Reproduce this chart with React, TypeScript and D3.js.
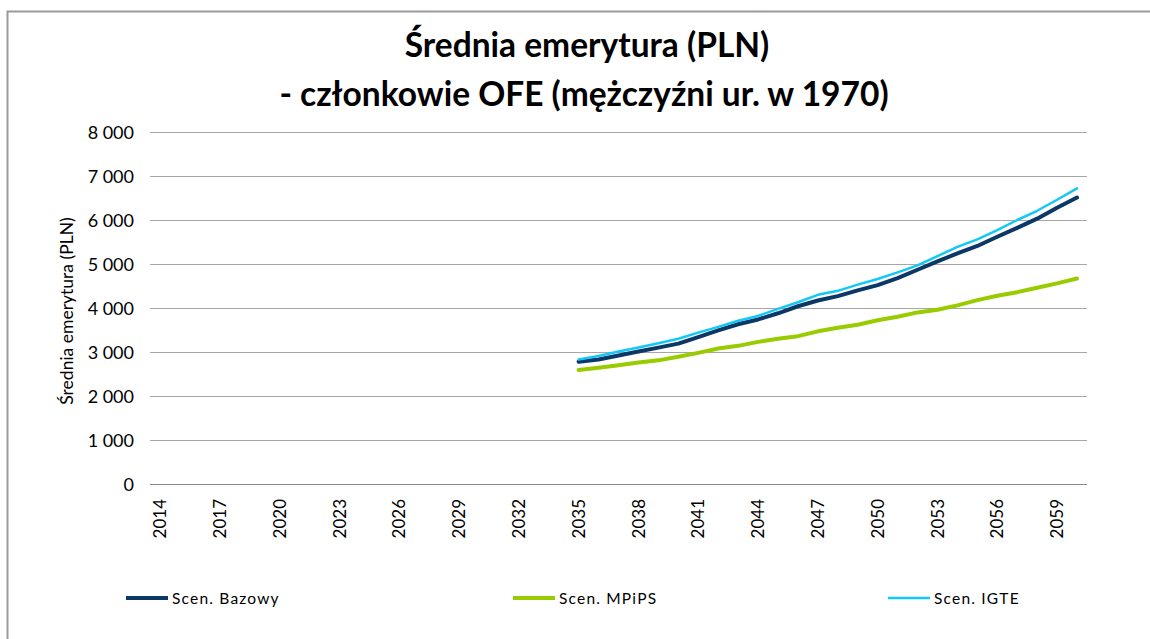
// App.tsx
import React, { useEffect, useRef } from 'react';
import * as d3 from 'd3';

// years on the category axis
const years: number[] = d3.range(2014, 2061);
const tickYears: number[] = d3.range(2014, 2061, 3);
const yTicks: number[] = [0, 1000, 2000, 3000, 4000, 5000, 6000, 7000, 8000];

// series start in 2035
const seriesYears: number[] = d3.range(2035, 2061);
const bazowy: number[] = [2780, 2830, 2920, 3010, 3100, 3190, 3340, 3490, 3630, 3740, 3880, 4040, 4170, 4270, 4400, 4520, 4680, 4870, 5060, 5240, 5410, 5620, 5820, 6030, 6280, 6510];
const mpips: number[] = [2590, 2640, 2700, 2760, 2810, 2890, 2980, 3080, 3140, 3230, 3300, 3360, 3470, 3550, 3620, 3720, 3800, 3900, 3960, 4060, 4180, 4280, 4360, 4460, 4560, 4670];
const igte: number[] = [2830, 2910, 3010, 3100, 3200, 3300, 3440, 3570, 3710, 3820, 3980, 4130, 4300, 4390, 4530, 4660, 4810, 4970, 5180, 5390, 5560, 5770, 6000, 6210, 6460, 6720];

const seriesNames: string[] = ['Scen. Bazowy', 'Scen. MPiPS', 'Scen. IGTE'];
const seriesColors: string[] = ['#0b3867', '#99cc00', '#12c8f7'];
const seriesWidths: number[] = [4, 4, 2.5];

const W = 1150;
const H = 639;
const FONT = 'Lato, "Liberation Sans", sans-serif';

const App: React.FC = () => {
  const svgRef = useRef<SVGSVGElement>(null);

  useEffect(() => {
    if (!svgRef.current) return;
    const svg = d3.select(svgRef.current);
    svg.selectAll('*').remove();

    const left = 150;
    const right = 1087;
    const top = 132;
    const bottom = 484;

    const x = d3.scaleBand<number>().domain(years).range([left, right]).padding(0);
    const y = d3.scaleLinear().domain([0, 8000]).range([bottom, top]);
    const fmt = d3.formatLocale({ decimal: ',', thousands: ' ', grouping: [3], currency: ['', ''] }).format(',');

    // outer frame
    svg.append('rect')
      .attr('x', 7.5).attr('y', 11.5)
      .attr('width', W).attr('height', H)
      .attr('fill', 'white')
      .attr('stroke', '#9a9a9a')
      .attr('stroke-width', 2);

    // title
    const title = svg.append('text')
      .attr('text-anchor', 'middle')
      .attr('font-family', FONT)
      .attr('font-weight', 'bold')
      .attr('font-size', 33.5)
      .attr('fill', '#000');
    title.append('tspan').attr('x', 587).attr('y', 57).text('Średnia emerytura (PLN)');
    title.append('tspan').attr('x', 584).attr('y', 106).text('- członkowie OFE (mężczyźni ur. w 1970)');

    // gridlines
    svg.append('g')
      .selectAll('line')
      .data(yTicks)
      .join('line')
      .attr('x1', left).attr('x2', right)
      .attr('y1', (d) => Math.round(y(d)) + 0.5)
      .attr('y2', (d) => Math.round(y(d)) + 0.5)
      .attr('stroke', (d) => (d === 0 ? '#888' : '#a6a6a6'))
      .attr('stroke-width', 1.2);

    // y axis labels
    const yAxis = svg.append('g')
      .attr('transform', `translate(${left - 16},0)`)
      .call(d3.axisLeft(y).tickValues(yTicks).tickSize(0).tickFormat((d) => fmt(d as number)));
    yAxis.select('.domain').remove();
    yAxis.selectAll('text')
      .attr('font-family', FONT)
      .attr('font-size', 18)
      .attr('fill', '#000')
      .attr('x', 0)
      .attr('dy', '0.36em');

    // x axis labels (rotated)
    const xAxis = svg.append('g')
      .attr('transform', `translate(0,${bottom})`)
      .call(d3.axisBottom(x).tickValues(tickYears).tickSize(0));
    xAxis.select('.domain').remove();
    xAxis.selectAll('text')
      .attr('font-family', FONT)
      .attr('font-size', 17)
      .attr('fill', '#000')
      .attr('transform', 'rotate(-90)')
      .attr('text-anchor', 'end')
      .attr('x', -15)
      .attr('y', 0)
      .attr('dy', '0.36em');

    // y axis title
    svg.append('text')
      .attr('transform', `translate(73,${(top + bottom) / 2 + 3}) rotate(-90)`)
      .attr('text-anchor', 'middle')
      .attr('font-family', FONT)
      .attr('font-size', 17.5)
      .attr('fill', '#000')
      .text('Średnia emerytura (PLN)');

    // lines
    const allSeries = [bazowy, mpips, igte];
    const line = d3.line<number>()
      .x((_, i) => (x(seriesYears[i]) || 0) + x.bandwidth() / 2)
      .y((d) => y(d));

    allSeries.forEach((vals, s) => {
      svg.append('path')
        .datum(vals)
        .attr('fill', 'none')
        .attr('stroke', seriesColors[s])
        .attr('stroke-width', seriesWidths[s])
        .attr('stroke-linejoin', 'round')
        .attr('stroke-linecap', 'round')
        .attr('d', line);
    });

    // legend
    const legendX = [126, 513, 888];
    const legendY = 598;
    const lg = svg.append('g');
    seriesNames.forEach((name, s) => {
      lg.append('line')
        .attr('x1', legendX[s]).attr('x2', legendX[s] + 42)
        .attr('y1', legendY).attr('y2', legendY)
        .attr('stroke', seriesColors[s])
        .attr('stroke-width', seriesWidths[s]);
      lg.append('text')
        .attr('x', legendX[s] + 46)
        .attr('y', legendY + 5.5)
        .attr('font-family', FONT)
        .attr('font-size', 15.5)
        .attr('letter-spacing', 1.2)
        .attr('fill', '#000')
        .text(name);
    });
  }, []);

  return (
    <svg
      ref={svgRef}
      width={W}
      height={H}
      style={{ position: 'absolute', left: 0, top: 0, display: 'block', background: 'white' }}
    ></svg>
  );
};

export default App;
